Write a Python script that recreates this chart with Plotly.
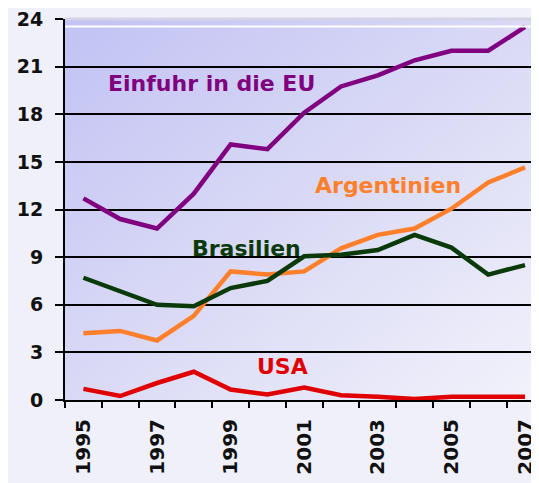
import plotly.graph_objects as go

years = list(range(1995, 2008))
eu = [12.7, 11.4, 10.8, 13.0, 16.1, 15.8, 18.1, 19.75, 20.45, 21.4, 22.0, 22.0, 23.5]
argentinien = [4.2, 4.35, 3.75, 5.3, 8.1, 7.9, 8.1, 9.55, 10.4, 10.8, 12.05, 13.7, 14.65]
brasilien = [7.7, 6.85, 6.0, 5.9, 7.05, 7.5, 9.05, 9.15, 9.45, 10.4, 9.6, 7.9, 8.5]
usa = [0.7, 0.25, 1.07, 1.78, 0.66, 0.35, 0.78, 0.3, 0.2, 0.06, 0.2, 0.2, 0.2]

# name, values, colour, label position (year, value)
series = [
    ("Einfuhr in die EU", eu, "#800080", 1998.49, 19.95),
    ("Argentinien", argentinien, "#ff7f2a", 2003.29, 13.5),
    ("Brasilien", brasilien, "#0a3a0a", 1999.43, 9.55),
    ("USA", usa, "#e00000", 2000.41, 2.12),
]
y_ticks = [0, 3, 6, 9, 12, 15, 18, 21, 24]
x_labels = [1995, 1997, 1999, 2001, 2003, 2005, 2007]

FONT = "DejaVu Sans"

# diagonal lavender gradient for the plot area
bg_svg = (
    "data:image/svg+xml;utf8,"
    "<svg xmlns='http://www.w3.org/2000/svg' width='100' height='100' preserveAspectRatio='none'>"
    "<defs><linearGradient id='g' x1='0' y1='0' x2='1' y2='1'>"
    "<stop offset='0' stop-color='%23c2c2f4'/>"
    "<stop offset='0.55' stop-color='%23dcdcf6'/>"
    "<stop offset='1' stop-color='%23f2f2fb'/>"
    "</linearGradient></defs>"
    "<rect width='100' height='100' fill='url(%23g)'/></svg>"
)

fig = go.Figure()
for name, vals, color, lx, ly in series:
    fig.add_scatter(
        x=years, y=vals, mode="lines", name=name,
        line=dict(color=color, width=4.5),
        hoverinfo="skip",
    )
    fig.add_annotation(
        x=lx, y=ly, text=f"<b>{name}</b>", showarrow=False,
        font=dict(family=FONT, size=22, color=color),
    )

fig.update_layout(
    width=531, height=475,
    margin=dict(l=57, r=0, t=7, b=83),
    paper_bgcolor="#eff0fa",
    plot_bgcolor="rgba(0,0,0,0)",
    showlegend=False,
    font=dict(family=FONT, size=18, color="#111"),
    images=[dict(
        source=bg_svg, xref="paper", yref="paper", x=0, y=1,
        sizex=1, sizey=1, sizing="stretch", layer="below",
    )],
    shapes=[
        # light top border and the white stripe just below it
        dict(type="line", xref="paper", yref="paper", x0=0, x1=1, y0=1, y1=1,
             line=dict(color="#d4d4e6", width=3)),
        dict(type="line", xref="paper", yref="paper", x0=0, x1=1, y0=0.98, y1=0.98,
             line=dict(color="white", width=2)),
    ],
    xaxis=dict(
        range=[1994.5, 2007.38],
        tickvals=x_labels, ticktext=[f"<b>{y}</b>" for y in x_labels],
        tickangle=-90, ticks="", ticklen=0, ticklabelstandoff=9,
        minor=dict(ticks="outside", tick0=1994.5, dtick=1, ticklen=6,
                   tickwidth=2, tickcolor="black", showgrid=False),
        showgrid=False, zeroline=False,
        showline=True, linecolor="black", linewidth=2,
        tickfont=dict(family=FONT, size=20, color="#111"),
    ),
    yaxis=dict(
        range=[0, 24],
        tickvals=y_ticks, ticktext=[f"<b>{v}</b>" for v in y_ticks],
        ticks="outside", ticklen=8, tickwidth=2, tickcolor="black",
        ticklabelstandoff=8, ticklabeloverflow="allow",
        showgrid=True, gridcolor="black", gridwidth=2,
        zeroline=False, showline=True, linecolor="black", linewidth=2,
        tickfont=dict(family=FONT, size=19, color="#111"),
    ),
)

fig.write_html("out.html")
